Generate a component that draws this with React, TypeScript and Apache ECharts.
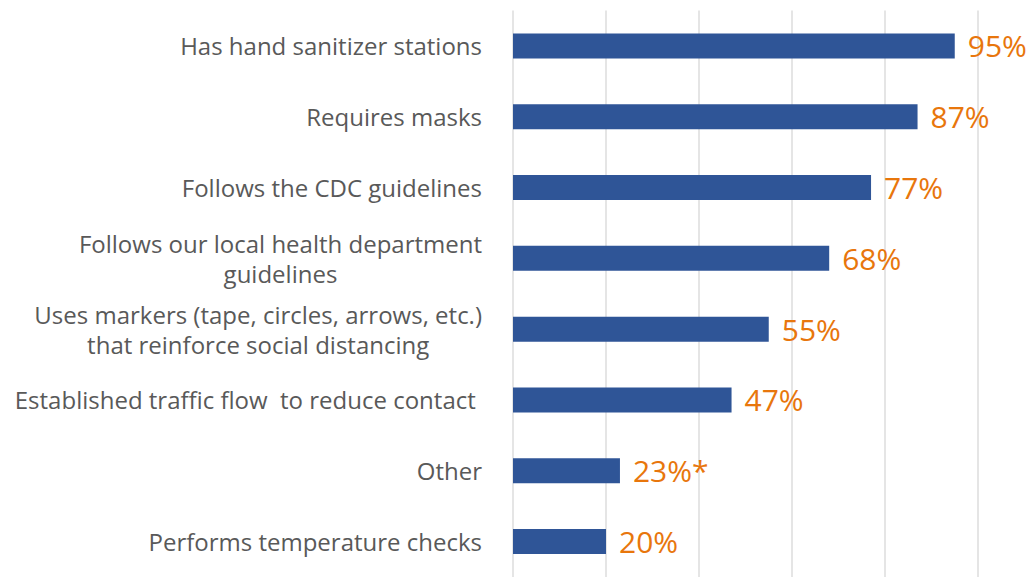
import React, { useEffect, useRef } from "react";
import * as echarts from "echarts";

const categories = [
  "Has hand sanitizer stations",
  "Requires masks",
  "Follows the CDC guidelines",
  "Follows our local health department\nguidelines",
  "Uses markers (tape, circles, arrows, etc.)\nthat reinforce social distancing",
  "Established traffic flow  to reduce contact ",
  "Other",
  "Performs temperature checks",
];
const values = [95, 87, 77, 68, 55, 47, 23, 20];
const labelSuffix = ["", "", "", "", "", "", "*", ""];
const xTicks = [0, 20, 40, 60, 80, 100];

const FONT = "'Open Sans', 'Liberation Sans', Arial, sans-serif";

export default function App() {
  const ref = useRef<HTMLDivElement>(null);
  useEffect(() => {
    if (!ref.current) return;
    const chart = echarts.init(ref.current, undefined, { renderer: "svg" });
    chart.setOption({
      animation: false,
      backgroundColor: "#ffffff",
      grid: { left: 513, right: 53, top: 10.5, height: 573, containLabel: false },
      xAxis: {
        type: "value",
        min: xTicks[0],
        max: xTicks[xTicks.length - 1],
        interval: xTicks[1] - xTicks[0],
        axisLabel: { show: false },
        axisLine: { show: false },
        axisTick: { show: false },
        splitLine: { show: true, lineStyle: { color: "#dcdcdc", width: 1.5 } },
      },
      yAxis: {
        type: "category",
        inverse: true,
        data: categories,
        axisLine: { show: false },
        axisTick: { show: false },
        axisLabel: {
          margin: 31,
          color: "#595959",
          fontFamily: FONT,
          fontSize: 24,
          lineHeight: 30,
          formatter: (v: string) =>
            v
              .split("\n")
              .map((line) => `{c|${line}}`)
              .join("\n"),
          rich: {
            c: {
              align: "center",
              color: "#595959",
              fontFamily: FONT,
              fontSize: 24,
              lineHeight: 30,
            },
          },
        },
      },
      series: [
        {
          type: "bar",
          data: values,
          barWidth: 25,
          itemStyle: { color: "#2F5597" },
          label: {
            show: true,
            position: "right",
            distance: 13,
            color: "#E8760C",
            fontFamily: FONT,
            fontSize: 30,
            formatter: (p: any) => `${p.value}%${labelSuffix[p.dataIndex]}`,
          },
        },
      ],
    });
    return () => chart.dispose();
  }, []);
  return (
    <div
      ref={ref}
      style={{ position: "fixed", left: 0, top: 0, width: 1031, height: 577 }}
    />
  );
}
